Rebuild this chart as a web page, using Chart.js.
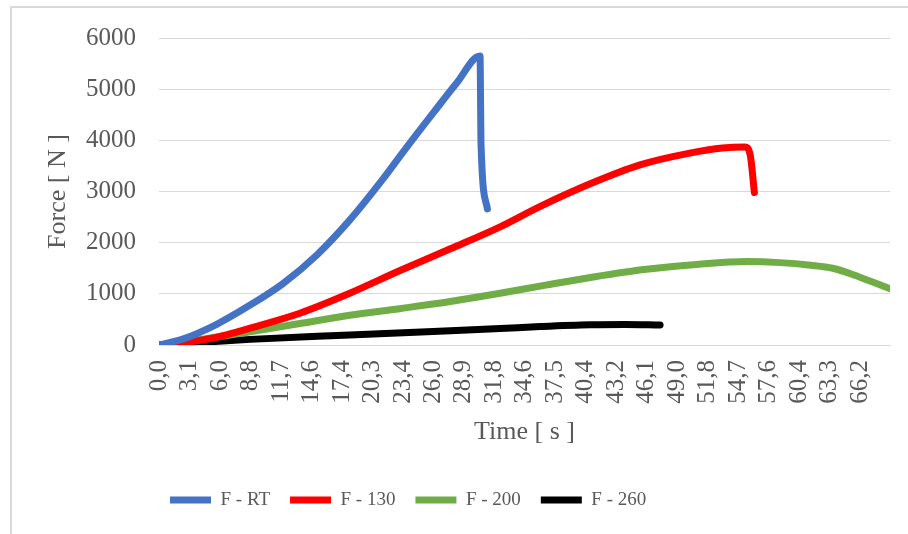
<!DOCTYPE html>
<html>
<head>
<meta charset="utf-8">
<script src="https://cdn.jsdelivr.net/npm/chart.js@4.4.0/dist/chart.umd.min.js"></script>
<style>
    html, body { margin: 0; padding: 0; background: #fff; }
    #wrap { position: relative; width: 908px; height: 534px; overflow: hidden; }
    #frame { position: absolute; left: 10px; top: 6px; width: 1000px; height: 1000px;
             border-left: 2px solid #d9d9d9; border-top: 2px solid #d9d9d9; }
    canvas { position: absolute; left: 0; top: 0; }
</style>
</head>
<body>
<div id="wrap">
    <div id="frame"></div>
    <canvas id="myChart" width="908" height="534"></canvas>
</div>
<script>
// category labels on the time axis
var timeLabels = ['0,0', '3,1', '6,0', '8,8', '11,7', '14,6', '17,4', '20,3', '23,4', '26,0', '28,9', '31,8',
    '34,6', '37,5', '40,4', '43,2', '46,1', '49,0', '51,8', '54,7', '57,6', '60,4', '63,3', '66,2'];
var forceTicks = [0, 1000, 2000, 3000, 4000, 5000, 6000];

// F - RT
var timeRT = [0, 2.3, 5.4, 8.6, 11.7, 14.9, 18.0, 21.2, 23.0, 25.9, 28.1, 30.3, 30.4, 31.0];
var forceRT = [0, 120, 400, 780, 1200, 1760, 2440, 3260, 3760, 4540, 5120, 5650, 3900, 2660];

// F - 130
var time130 = [0, 2.5, 5.4, 8.6, 13.3, 18.0, 22.7, 27.5, 32.2, 35.9, 40.7, 45.4, 50.1, 53.2, 55.3, 55.8, 56.2];
var force130 = [0, 50, 150, 330, 620, 1010, 1450, 1880, 2310, 2700, 3150, 3520, 3750, 3850, 3870, 3720, 2980];

// F - 200
var time200 = [0, 4.0, 8.6, 13.3, 18.0, 22.7, 27.5, 32.2, 36.5, 41.0, 46.0, 51.0, 55.5, 58.6, 61.5, 63.6, 66.1, 69.0];
var force200 = [0, 110, 260, 420, 580, 710, 850, 1010, 1170, 1330, 1480, 1580, 1630, 1610, 1560, 1500, 1330, 1100];

// F - 260
var time260 = [0, 8.6, 18.0, 27.5, 32.2, 36.0, 40.7, 44.0, 47.3];
var force260 = [0, 110, 195, 280, 322, 360, 395, 402, 390];

var textColor = '#595959';
var serif = "'Liberation Serif', 'Times New Roman', serif";
var lastTick = parseFloat(timeLabels[timeLabels.length - 1].replace(',', '.'));

function points(t, f) {
    return t.map(function (v, i) { return { x: v, y: f[i] }; });
}

function line(label, t, f, color) {
    return {
        label: label,
        data: points(t, f),
        borderColor: color,
        backgroundColor: color,
        borderWidth: 7,
        borderCapStyle: 'round',
        borderJoinStyle: 'round',
        pointRadius: 0,
        cubicInterpolationMode: 'monotone',
        fill: false
    };
}

// move the legend a bit left, like the original
var legendShift = {
    id: 'legendShift',
    afterLayout: function (chart) {
        if (chart.legend) {
            chart.legend.left = 150;
        }
    }
};

var ctx = document.getElementById('myChart').getContext('2d');
var myChart = new Chart(ctx, {
    type: 'line',
    data: {
        datasets: [
            line('F - RT', timeRT, forceRT, '#4472C4'),
            line('F - 130', time130, force130, '#FF0000'),
            line('F - 200', time200, force200, '#70AD47'),
            line('F - 260', time260, force260, '#000000')
        ]
    },
    options: {
        responsive: false,
        animation: false,
        layout: {
            padding: { left: 0, right: 18, top: 35, bottom: 14.5 }
        },
        scales: {
            x: {
                type: 'linear',
                min: 0,
                max: 69,
                afterBuildTicks: function (scale) {
                    scale.ticks = timeLabels.map(function (l, i) {
                        return { value: i * lastTick / (timeLabels.length - 1) };
                    });
                },
                afterFit: function (scale) {
                    scale.height = 125.5;
                },
                ticks: {
                    autoSkip: false,
                    maxRotation: 90,
                    minRotation: 90,
                    padding: 15,
                    color: textColor,
                    font: { family: serif, size: 25 },
                    callback: function (value, index) {
                        return timeLabels[index];
                    }
                },
                grid: { display: false, drawTicks: false },
                border: { color: '#d9d9d9' },
                title: {
                    display: true,
                    text: 'Time [ s ]',
                    color: textColor,
                    font: { family: serif, size: 26 },
                    padding: { top: 0, bottom: 23 }
                }
            },
            y: {
                min: 0,
                max: 6000,
                afterBuildTicks: function (scale) {
                    scale.ticks = forceTicks.map(function (v) { return { value: v }; });
                },
                afterFit: function (scale) {
                    scale.width = 159;
                },
                ticks: {
                    padding: 23,
                    color: textColor,
                    font: { family: serif, size: 25 },
                    callback: function (value) {
                        return String(value);
                    }
                },
                grid: { color: '#d9d9d9', drawTicks: false },
                border: { display: false },
                title: {
                    display: true,
                    text: 'Force [ N ]',
                    color: textColor,
                    font: { family: serif, size: 26 },
                    padding: { top: 43, bottom: 0 }
                }
            }
        },
        plugins: {
            legend: {
                position: 'bottom',
                align: 'start',
                labels: {
                    usePointStyle: true,
                    pointStyle: 'line',
                    pointStyleWidth: 41,
                    padding: 20,
                    color: textColor,
                    font: { family: serif, size: 19 }
                }
            },
            tooltip: { enabled: false }
        }
    },
    plugins: [legendShift]
});
</script>
</body>
</html>
